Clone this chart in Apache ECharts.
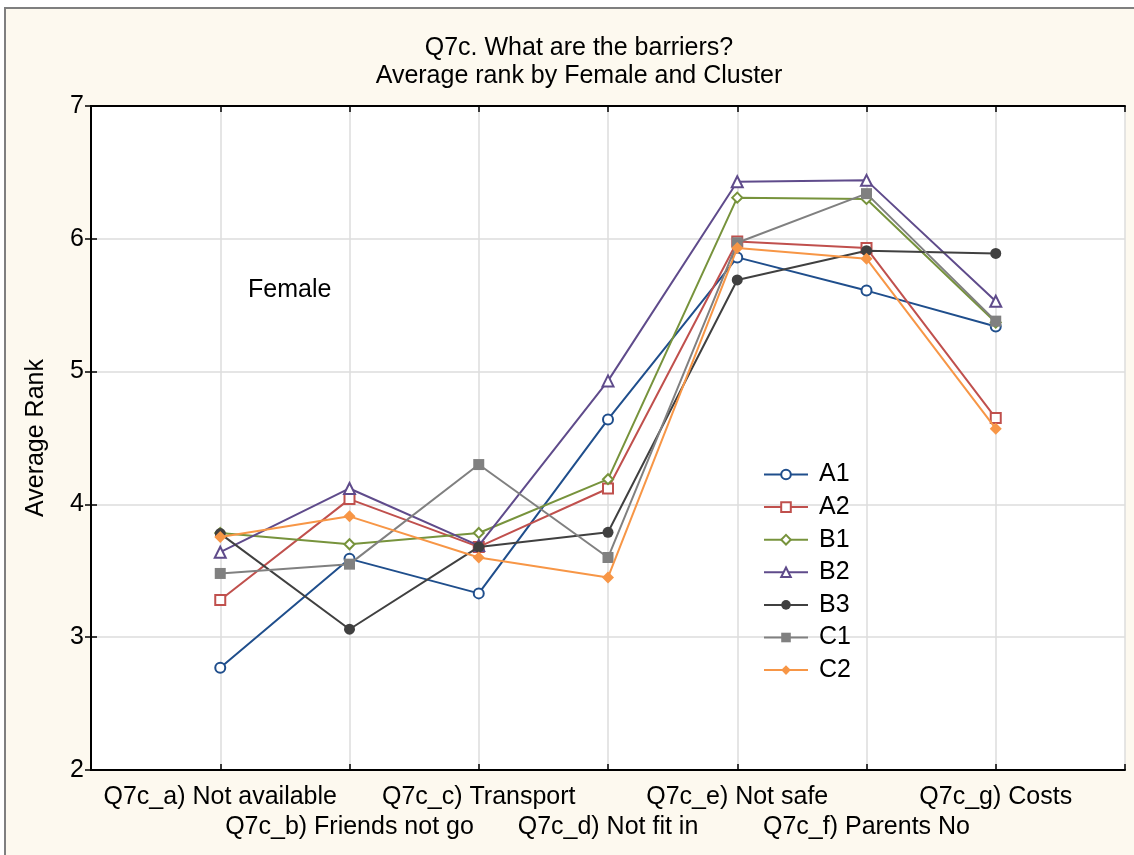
<!DOCTYPE html>
<html>
<head>
<meta charset="utf-8">
<script src="https://cdn.jsdelivr.net/npm/echarts@6/dist/echarts.min.js"></script>
<style>
html,body{margin:0;padding:0;background:#ffffff;}
#chart{width:1134px;height:855px;}
</style>
</head>
<body>
<div id="chart"></div>
<script>
var categories = ['Q7c_a) Not available','Q7c_b) Friends not go','Q7c_c) Transport','Q7c_d) Not fit in','Q7c_e) Not safe','Q7c_f) Parents No','Q7c_g) Costs'];
var seriesNames = ['A1','A2','B1','B2','B3','C1','C2'];
var A1 = [2.77, 3.59, 3.33, 4.64, 5.86, 5.61, 5.34];
var A2 = [3.28, 4.04, 3.68, 4.12, 5.98, 5.93, 4.65];
var B1 = [3.785, 3.70, 3.785, 4.19, 6.31, 6.30, 5.37];
var B2 = [3.64, 4.12, 3.69, 4.93, 6.43, 6.44, 5.53];
var B3 = [3.78, 3.06, 3.68, 3.79, 5.69, 5.91, 5.89];
var C1 = [3.48, 3.55, 4.30, 3.60, 5.97, 6.34, 5.38];
var C2 = [3.755, 3.91, 3.60, 3.45, 5.93, 5.85, 4.57];
var yTicks = [2, 3, 4, 5, 6, 7];

var values = [A1, A2, B1, B2, B3, C1, C2];
var colors = ['#1f4e8c','#c0504d','#77933c','#5f4b8b','#404040','#808080','#f79646'];
var symbols = ['circle','rect','diamond','triangle','circle','rect','diamond'];
var hollow = [true,true,true,true,false,false,false];
var sizes = [10, 10, 10, 11, 11, 11, 12];

var chart = echarts.init(document.getElementById('chart'));
var FONT = '"Liberation Sans", Arial, sans-serif';
var FS = 25;

function pairs(arr){ return arr.map(function(v,i){ return [i+1, v]; }); }

var series = seriesNames.map(function(n, k){
  return {
    name: n,
    type: 'line',
    data: pairs(values[k]),
    symbol: symbols[k],
    symbolSize: sizes[k],
    lineStyle: { color: colors[k], width: 2 },
    itemStyle: hollow[k] ? { color: '#ffffff', borderColor: colors[k], borderWidth: 2 } : { color: colors[k], borderColor: colors[k], borderWidth: 0 },
    emphasis: { disabled: true },
    animation: false,
    z: 3 + k
  };
});

var tickLen = 6;
var axisLineStyle = { show: true, lineStyle: { color: '#000', width: 2 } };
var tickStyle = { show: true, inside: true, length: tickLen, lineStyle: { color: '#000', width: 1.5 } };
chart.setOption({
  backgroundColor: 'transparent',
  animation: false,
  graphic: [
    { type: 'rect', shape: { x: 5, y: 8, width: 1200, height: 900 }, style: { fill: '#fdf9ef', stroke: '#7f7f7f', lineWidth: 2 }, z: -10, silent: true },
    { type: 'text', left: 248, top: 278, style: { text: 'Female', font: FS + 'px ' + FONT, fill: '#000' }, z: 10 }
  ],
  title: [
    { text: 'Q7c. What are the barriers?', left: 574, top: 31, textAlign: 'center', textStyle: { fontFamily: FONT, fontSize: FS, fontWeight: 'normal', color: '#000' } },
    { text: 'Average rank by Female and Cluster', left: 574, top: 59, textAlign: 'center', textStyle: { fontFamily: FONT, fontSize: FS, fontWeight: 'normal', color: '#000' } }
  ],
  legend: {
    orient: 'vertical',
    left: 763,
    top: 462,
    padding: 0,
    itemWidth: 44,
    itemHeight: 12,
    itemGap: 7.6,
    textStyle: { fontFamily: FONT, fontSize: FS, color: '#000', padding: [0,0,0,6] },
    data: seriesNames
  },
  grid: { left: 91, right: 9, top: 106, bottom: 85, show: true, backgroundColor: '#ffffff', borderWidth: 0 },
  xAxis: [
    {
      type: 'value', min: 0, max: 8, interval: 1, position: 'bottom',
      axisLine: axisLineStyle,
      axisTick: tickStyle,
      splitLine: { show: true, lineStyle: { color: '#dcdcdc', width: 1.5 } },
      axisLabel: {
        fontFamily: FONT, fontSize: FS, color: '#000', margin: 12, lineHeight: 30,
        formatter: function(v){
          var i = Math.round(v) - 1;
          if (i < 0 || i >= categories.length) return '';
          return (i % 2 === 1) ? '\n' + categories[i] : categories[i];
        }
      }
    },
    {
      type: 'value', min: 0, max: 8, interval: 1, position: 'top',
      axisLine: axisLineStyle,
      axisTick: tickStyle,
      splitLine: { show: false },
      axisLabel: { show: false }
    }
  ],
  yAxis: [
    {
      type: 'value', min: yTicks[0], max: yTicks[yTicks.length-1], interval: 1, position: 'left',
      name: 'Average Rank', nameLocation: 'middle', nameGap: 42, nameRotate: 90,
      nameTextStyle: { fontFamily: FONT, fontSize: FS, color: '#000' },
      axisLine: axisLineStyle,
      axisTick: tickStyle,
      splitLine: { show: true, lineStyle: { color: '#dcdcdc', width: 1.5 } },
      axisLabel: { fontFamily: FONT, fontSize: FS, color: '#000', margin: 7 }
    },
    {
      type: 'value', min: yTicks[0], max: yTicks[yTicks.length-1], interval: 1, position: 'right',
      axisLine: axisLineStyle,
      axisTick: tickStyle,
      splitLine: { show: false },
      axisLabel: { show: false }
    }
  ],
  series: series
});
</script>
</body>
</html>
